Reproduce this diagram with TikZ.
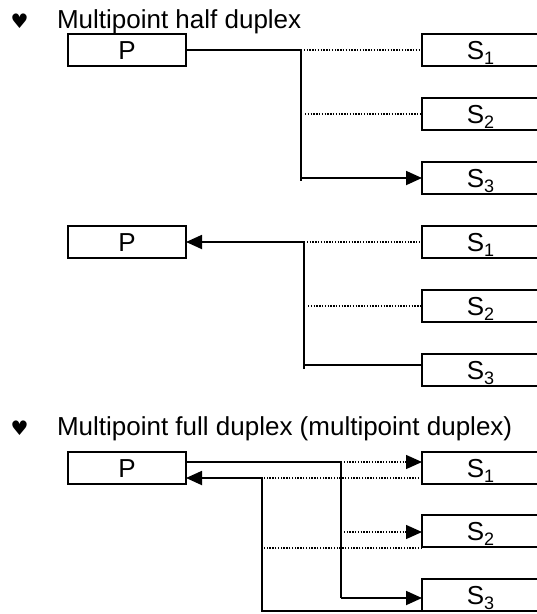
\documentclass[tikz,border=0pt]{standalone}
\usepackage{fontspec}
\setmainfont{Liberation Sans}
\newfontfamily\symfont{DejaVu Sans}
\usetikzlibrary{arrows.meta,calc}
% lowered index digit after a box label
\newcommand\subidx[1]{\raisebox{-5.5pt}{\fontsize{18}{18}\selectfont #1}}
\begin{document}
\begin{tikzpicture}[x=1pt,y=-1pt,
  every node/.style={inner sep=0pt, outer sep=0pt},
  box/.style={draw, line width=2.2pt, anchor=north west, minimum height=32pt,
    text height=18.5pt, text depth=0pt, font=\fontsize{26}{26}\selectfont},
  pbox/.style={box, minimum width=118pt},
  sbox/.style={box, minimum width=117pt},
  wire/.style={line width=1.8pt},
  dotwire/.style={line width=1.4pt, dash pattern=on 1.4pt off 1.4pt},
  tip/.style={-{Triangle[length=16pt,width=14pt]}},
  heading/.style={anchor=base west, font=\fontsize{26}{26}\selectfont},
  bullet/.style={font=\symfont\fontsize{20}{20}\selectfont}
]
\useasboundingbox (0,0) rectangle (537,614);

% ---------- multipoint half duplex, primary sending ----------
\node[bullet] (h1b) at (19.5,21) {♥};
\node[heading] (h1) at (57,28) {Multipoint half duplex};
\node[pbox] (P1) at (68,34) {P};
\node[sbox] (S11) at (422,34) {S\subidx{1}};
\node[sbox] (S12) at (422,98) {S\subidx{2}};
\node[sbox] (S13) at (422,162) {S\subidx{3}};
\coordinate (J1) at (301,50);
\coordinate (J1b) at (301,181);
\coordinate (D12) at (305,114);
\draw[wire] (P1.east) -- (J1) -- (J1b);
\draw[wire,tip] (J1b |- S13.west) -- (S13.west);
\draw[dotwire] (J1) -- (S11.west);
\draw[dotwire] (D12) -- (S12.west);

% ---------- multipoint half duplex, secondary sending ----------
\node[pbox] (P2) at (68,226) {P};
\node[sbox] (S21) at (422,226) {S\subidx{1}};
\node[sbox] (S22) at (422,290) {S\subidx{2}};
\node[sbox] (S23) at (422,354) {S\subidx{3}};
\coordinate (J2) at (304,242);
\coordinate (J2b) at (304,369);
\coordinate (K2) at (304,365);
\coordinate (D22) at (308,306);
\draw[wire,tip] (J2) -- (P2.east);
\draw[wire] (J2) -- (J2b);
\draw[wire] (K2) -- (K2 -| S23.west);
\draw[dotwire] (J2) -- (S21.west);
\draw[dotwire] (D22) -- (S22.west);

% ---------- multipoint full duplex ----------
\node[bullet] (h2b) at (19.5,428) {♥};
\node[heading] (h2) at (57,435) {Multipoint full duplex (multipoint duplex)};
\node[pbox] (P3) at (68,452) {P};
\node[sbox] (S31) at (422,452) {S\subidx{1}};
\node[sbox] (S32) at (422,515) {S\subidx{2}};
\node[sbox] (S33) at (422,579) {S\subidx{3}};
% outgoing channel
\coordinate (A1) at (341,462);
\coordinate (A2) at (341,598);
\coordinate (A3) at (341,532);
\draw[wire] ($(P3.east)+(0,-6)$) -- (A1) -- (A2);
\draw[wire,tip] (A2) -- (A2 -| S33.west);
\draw[dotwire,tip] (A1) -- (A1 -| S31.west);
\draw[dotwire,tip] (A3) -- (A3 -| S32.west);
% return channel
\coordinate (B1) at (262,611);
\coordinate (B2) at (262,478);
\coordinate (B3) at (262,548);
\draw[wire,tip] (S33.south west) -- (B1) -- (B2) -- (B2 -| P3.east);
\draw[dotwire] (B2 -| S31.west) -- (B2);
\draw[dotwire] (B3 -| S32.west) -- (B3);
\end{tikzpicture}
\end{document}
